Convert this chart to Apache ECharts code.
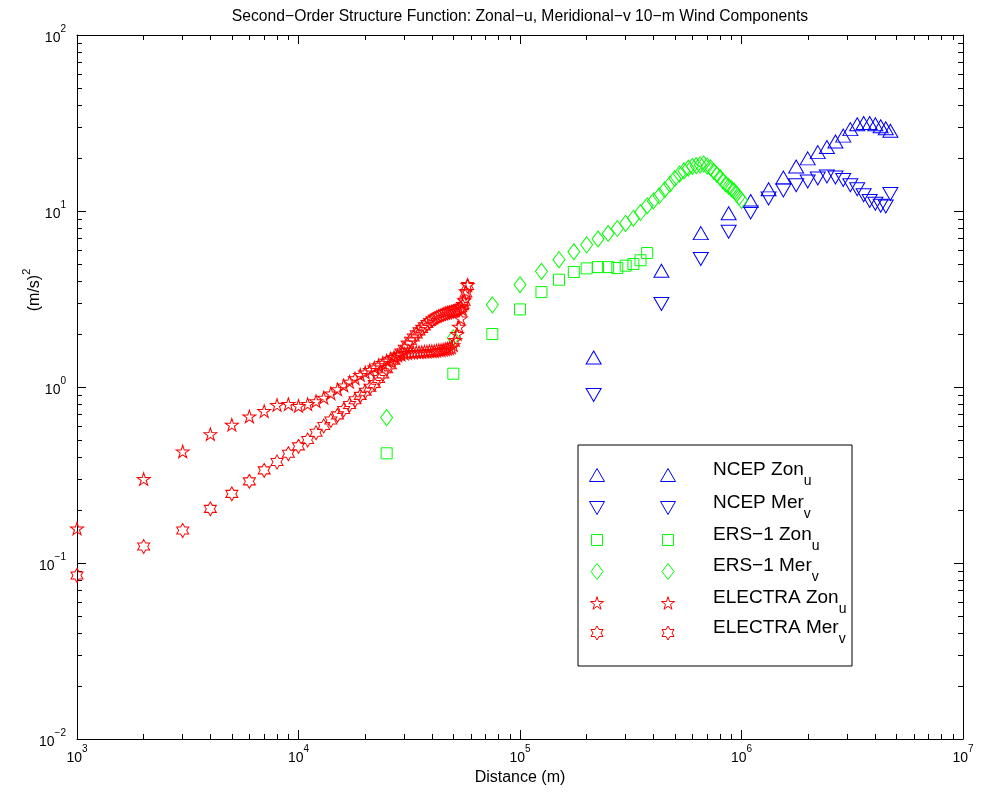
<!DOCTYPE html>
<html><head><meta charset="utf-8">
<script src="https://cdn.jsdelivr.net/npm/echarts@6/dist/echarts.min.js"></script>
<style>html,body{margin:0;padding:0;background:#fff}#c{width:982px;height:792px}</style>
</head><body><div id="c"></div>
<script>
// ---------------- data ----------------
const electraX = [1000,2000,3000,4000,5000,6000,7000,8000,9000,10000,11000,12000,13000,14000,15000,16000,17000,18000,19000,20000,21000,22000,23000,24000,25000,26000,27000,28000,29000,30000,31000,32000,33000,34000,35000,36000,37000,38000,39000,40000,41000,42000,43000,44000,45000,46000,47000,48000,49000,50000,51000,52000,53000,54000,55000,56000,57000,58000];
const electraZon = [0.157,0.30,0.43,0.54,0.61,0.68,0.73,0.79,0.80,0.78,0.80,0.83,0.87,0.92,0.97,1.02,1.07,1.12,1.17,1.21,1.25,1.29,1.33,1.37,1.41,1.45,1.48,1.51,1.53,1.55,1.56,1.57,1.57,1.58,1.58,1.58,1.59,1.59,1.60,1.60,1.60,1.61,1.62,1.62,1.63,1.64,1.65,1.66,1.68,1.73,1.85,2.0,2.2,2.45,2.75,3.1,3.5,3.8];
const electraMer = [0.085,0.124,0.153,0.203,0.247,0.291,0.336,0.375,0.418,0.46,0.50,0.55,0.60,0.645,0.69,0.74,0.79,0.84,0.89,0.94,0.99,1.04,1.11,1.18,1.26,1.33,1.41,1.49,1.57,1.65,1.74,1.83,1.91,1.99,2.07,2.14,2.21,2.28,2.34,2.39,2.44,2.48,2.52,2.55,2.58,2.61,2.63,2.65,2.67,2.69,2.71,2.73,2.76,2.80,2.88,3.05,3.4,3.75];
const ersX = [25000,50000,75000,100000,125000,150000,175000,200000,225000,250000,275000,300000,325000,350000,375000,400000,425000,450000,475000,500000,525000,550000,575000,600000,625000,650000,675000,700000,725000,750000,775000,800000,825000,850000,875000,900000,925000,950000,975000,1000000];
const ersZon = [0.42,1.19,2.0,2.76,3.46,4.07,4.5,4.72,4.8,4.8,4.74,4.89,5.0,5.25,5.77];
const ersMer = [0.67,1.9,2.93,3.81,4.54,5.29,5.87,6.42,6.93,7.45,7.95,8.5,9.1,9.8,10.7,11.4,12.2,13.2,14.2,15.3,16.2,16.9,17.5,17.9,18.1,18.3,18.5,18.0,17.6,16.8,16.1,15.5,14.8,14.2,13.8,13.4,13.0,12.5,12.0,11.5];
const ncepX = [215000,435000,655000,875000,1100000,1325000,1545000,1765000,1990000,2210000,2430000,2655000,2880000,3100000,3330000,3560000,3790000,4020000,4250000,4480000,4700000];
const ncepZon = [1.47,4.58,7.49,9.7,11.4,13.3,15.5,17.9,19.9,21.6,23.1,24.8,26.8,29.2,31.1,31.6,31.6,31.1,30.3,29.5,28.6];
const ncepMer = [0.90,2.96,5.34,7.63,9.8,11.8,13.1,14.0,14.7,15.3,15.7,15.5,15.0,14.0,13.3,12.3,11.4,11.0,10.7,10.6,12.5];
const xRange = [1e3, 1e7];
const yRange = [1e-2, 1e2];
const titleText = 'Second\u2212Order Structure Function: Zonal\u2212u, Meridional\u2212v 10\u2212m Wind Components';
const xName = 'Distance (m)';
const legendNames = [['NCEP Zon','u'],['NCEP Mer','v'],['ERS\u22121 Zon','u'],['ERS\u22121 Mer','v'],['ELECTRA Zon','u'],['ELECTRA Mer','v']];

// ---------------- symbols ----------------
const P_UP = 'M50,0 L100,100 L0,100 Z';
const P_DOWN = 'M0,0 L100,0 L50,100 Z';
const P_SQ = 'M0,0 L100,0 L100,100 L0,100 Z';
const P_DIA = 'M50,0 L100,50 L50,100 L0,50 Z';
const P_PENT = 'M50,0 L61.23,34.55 L97.55,34.55 L68.16,55.9 L79.39,90.45 L50,69.1 L20.61,90.45 L31.84,55.9 L2.45,34.55 L38.77,34.55 Z';
const P_HEX = 'M50,0 L64.43,25 L93.3,25 L78.87,50 L93.3,75 L64.43,75 L50,100 L35.57,75 L6.7,75 L21.13,50 L6.7,25 L35.57,25 Z';
const BLUE = '#0000ff', GREEN = '#00ff00', RED = '#ff0000';
const FONT = "'Liberation Sans', Arial, Helvetica, sans-serif";

const styles = [
  {p:P_UP, s:[15,13], c:BLUE},
  {p:P_DOWN, s:[15,13], c:BLUE},
  {p:P_SQ, s:[11,11], c:GREEN},
  {p:P_DIA, s:[12,16], c:GREEN},
  {p:P_PENT, s:[13,12.5], c:RED},
  {p:P_HEX, s:[12,14], c:RED}
];

function sc(i, xs, ys) {
  const st = styles[i];
  return {
    type:'scatter', name: legendNames[i].join(''), xAxisIndex:0, yAxisIndex:0,
    data: ys.map((y, k) => [xs[k], y]),
    symbol:'path://' + st.p, symbolSize: st.s,
    itemStyle:{color:'rgba(0,0,0,0)', borderColor: st.c, borderWidth:1, opacity:1},
    emphasis:{disabled:true}, silent:true, z: 2
  };
}

const supRich = {
  b:{fontSize:14, fontFamily:FONT, color:'#000', lineHeight:21, verticalAlign:'bottom'},
  s:{fontSize:10, fontFamily:FONT, color:'#000', lineHeight:10, verticalAlign:'top'}
};
function expLabel(v) {
  const e = Math.round(Math.log10(v));
  return '{b|10}{s|' + (e < 0 ? '\u2212' + (-e) : e) + '}';
}
function axCommon(showLabel, margin) {
  return {
    type:'log', logBase:10,
    axisLine:{show:true, onZero:false, lineStyle:{color:'#000', width:1}},
    axisTick:{show:true, inside:true, length:9, lineStyle:{color:'#000', width:1}},
    minorTick:{show:true, splitNumber:9, length:5, lineStyle:{color:'#000', width:1}},
    splitLine:{show:false}, minorSplitLine:{show:false},
    axisLabel:{show:showLabel, formatter: expLabel, rich: supRich, margin: margin, showMinLabel:true, showMaxLabel:true},
    axisPointer:{show:false}
  };
}

const chart = echarts.init(document.getElementById('c'), null, {renderer:'canvas'});
const xb = Object.assign(axCommon(true, 5), {min:xRange[0], max:xRange[1], position:'bottom'});
const xt = Object.assign(axCommon(false, 5), {min:xRange[0], max:xRange[1], position:'top'});
const yl = Object.assign(axCommon(true, 11), {min:yRange[0], max:yRange[1], position:'left'});
const yr = Object.assign(axCommon(false, 11), {min:yRange[0], max:yRange[1], position:'right'});

// legend graphic (icons are polygons built from the symbol path outlines)
function pathPoints(p, cx, cy, w, h) {
  const nums = p.replace(/[MLZ]/g, ' ').trim().split(/[\s,]+/).map(Number);
  const pts = [];
  for (let k = 0; k < nums.length; k += 2) pts.push([nums[k], nums[k+1]]);
  const xs = pts.map(q => q[0]), ys = pts.map(q => q[1]);
  const x0 = Math.min(...xs), x1 = Math.max(...xs), y0 = Math.min(...ys), y1 = Math.max(...ys);
  return pts.map(q => [cx - w/2 + (q[0]-x0)/(x1-x0)*w, cy - h/2 + (q[1]-y0)/(y1-y0)*h]);
}
const lg = {x:578, y:445, w:274, h:221, icon1:597, icon2:668, textX:713, rows:[475,508,540,571.5,603,633]};
const legendEls = [{type:'rect', shape:{x:lg.x, y:lg.y, width:lg.w, height:lg.h}, style:{fill:'#fff', stroke:'#000', lineWidth:1}, z:10}];
const legRich = {
  t:{fontSize:19, fontFamily:FONT, color:'#000', lineHeight:28, verticalAlign:'top'},
  u:{fontSize:14, fontFamily:FONT, color:'#000', lineHeight:6, verticalAlign:'bottom'}
};
styles.forEach((st, i) => {
  const cy = lg.rows[i];
  [lg.icon1, lg.icon2].forEach(cx => {
    legendEls.push({type:'polygon', shape:{points: pathPoints(st.p, cx, cy, st.s[0], st.s[1])},
      style:{fill:'none', stroke: st.c, lineWidth:1}, z:11});
  });
  legendEls.push({type:'text', x: lg.textX, y: cy - 1, style:{text:'{t|' + legendNames[i][0] + '}{u|' + legendNames[i][1] + '}', rich: legRich, align:'left', verticalAlign:'middle'}, z:11});
});

const option = {
  animation:false,
  backgroundColor:'#fff',
  grid:{left:77, top:35, right:19, bottom:53, containLabel:false, show:false},
  xAxis:[xb, xt],
  yAxis:[yl, yr],
  series:[
    sc(0, ncepX, ncepZon),
    sc(1, ncepX, ncepMer),
    sc(2, ersX, ersZon),
    sc(3, ersX, ersMer),
    sc(4, electraX, electraZon),
    sc(5, electraX, electraMer)
  ],
  graphic:[
    {type:'text', x:520, y:17, style:{text:titleText, font:'15.7px ' + FONT, fill:'#000', align:'center', verticalAlign:'middle'}},
    {type:'text', x:520, y:778, style:{text:xName, font:'16px ' + FONT, fill:'#000', align:'center', verticalAlign:'middle'}},
    {type:'text', x:32, y:290, rotation:Math.PI/2, style:{text:'{b|(m/s)}{s|2}', align:'center', verticalAlign:'middle',
      rich:{b:{fontSize:16, fontFamily:FONT, color:'#000', lineHeight:22, verticalAlign:'bottom'}, s:{fontSize:11, fontFamily:FONT, color:'#000', lineHeight:10, verticalAlign:'top'}}}}
  ].concat(legendEls)
};
chart.setOption(option);
</script></body></html>
